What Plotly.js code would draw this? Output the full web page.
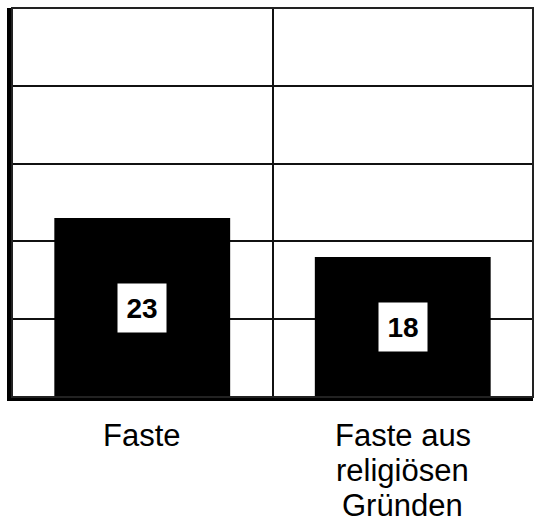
<!DOCTYPE html>
<html>
<head>
<meta charset="utf-8">
<script src="https://cdn.plot.ly/plotly-3.0.1.min.js"></script>
<style>html,body{margin:0;padding:0;background:#fff;}#chart{width:535px;height:522px;}</style>
</head>
<body>
<div id="chart"></div>
<script>
const categories = ["Faste", "Faste aus religiösen Gründen"];
const values = [23, 18];
const tickLines = [["Faste"], ["Faste aus", "religiösen", "Gründen"]];

const FONT = "Liberation Sans, Arial, sans-serif";

const annotations = [];
values.forEach((v, i) => {
  annotations.push({
    x: categories[i], y: v / 2, xref: "x", yref: "y",
    text: "<b>" + v + "</b>", showarrow: false,
    bgcolor: "#fff", width: 46, height: 46,
    font: {family: FONT, size: 28, color: "#000"},
    xanchor: "center", yanchor: "middle"
  });
});
tickLines.forEach((lines, i) => {
  lines.forEach((line, j) => {
    annotations.push({
      x: categories[i], y: 0, xref: "x", yref: "paper",
      text: line, showarrow: false,
      font: {family: FONT, size: 31, color: "#000"},
      xanchor: "center", yanchor: "middle",
      yshift: -38 - 35 * j
    });
  });
});

const data = [{
  type: "bar",
  x: categories,
  y: values,
  width: 0.675,
  marker: {color: "#000", line: {width: 0}},
  hoverinfo: "none"
}];

const layout = {
  width: 535, height: 522,
  margin: {l: 12, r: 2, t: 8, b: 125, pad: 0},
  paper_bgcolor: "#fff", plot_bgcolor: "#fff",
  showlegend: false,
  xaxis: {
    type: "category",
    range: [-0.5, 1.5],
    tickson: "boundaries",
    showgrid: true, gridcolor: "#111", gridwidth: 2,
    showticklabels: false, ticks: "",
    showline: true, linecolor: "#000", linewidth: 4,
    zeroline: false, fixedrange: true
  },
  yaxis: {
    range: [0, 50], dtick: 10, tick0: 0,
    showgrid: true, gridcolor: "#111", gridwidth: 2,
    showticklabels: false, ticks: "",
    showline: true, linecolor: "#000", linewidth: 5,
    zeroline: false, fixedrange: true
  },
  shapes: [{
    type: "rect", xref: "paper", yref: "paper",
    x0: 0, x1: 1, y0: 0, y1: 1,
    line: {color: "#222", width: 2}, layer: "above"
  }],
  annotations: annotations
};

Plotly.newPlot("chart", data, layout, {displayModeBar: false, staticPlot: true});
</script>
</body>
</html>
